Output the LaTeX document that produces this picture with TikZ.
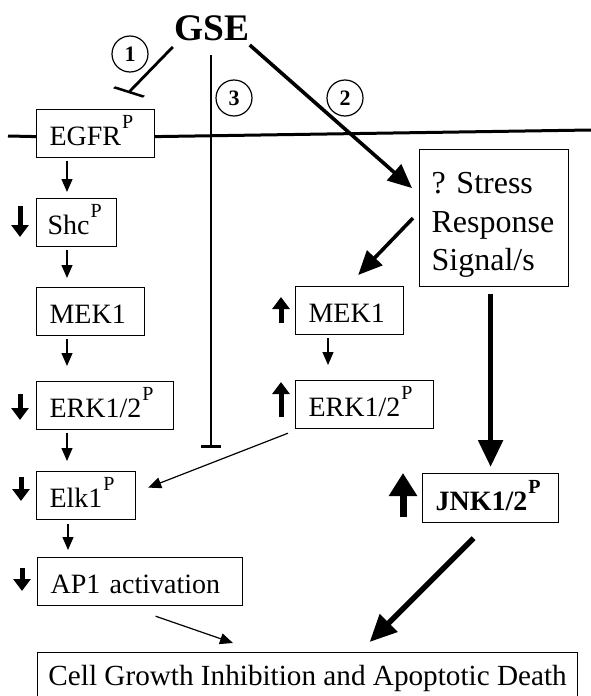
\documentclass[tikz,border=0pt]{standalone}
\usepackage{fontspec}
\setmainfont{Liberation Serif}
\usetikzlibrary{arrows.meta}
\frenchspacing
% raised phospho mark
\newcommand\phos{\hspace{1pt}\raisebox{17pt}{\fontsize{20}{20}\selectfont P}}
\begin{document}
\begin{tikzpicture}[x=1pt,y=-1pt,
  box/.style={draw, line width=1.2pt, anchor=north west, inner xsep=13pt, inner ysep=12pt,
    text height=24pt, text depth=0pt, align=left, font=\fontsize{28}{32}\selectfont},
  num/.style={draw, circle, line width=1.2pt, minimum size=36pt, inner sep=0pt,
    font=\bfseries\fontsize{22}{22}\selectfont},
  thinarr/.style={line width=1.2pt, -{Triangle[length=13pt,width=11pt]}},
  thickarr/.style={line width=3.6pt, -{Triangle[length=24pt,width=21pt]}},
  heavyarr/.style={line width=5.5pt, -{Triangle[length=27pt,width=24pt]}},
  inhib/.style={line width=2.8pt},
  level/.style={line width=5pt, -{Triangle[length=12pt,width=17pt]}},
  biglevel/.style={line width=7pt, -{Triangle[length=23pt,width=27pt]}},
  membrane/.style={line width=3pt}
]
\clip (0,0) rectangle (591,696);

% agent
\node[inner sep=0pt, anchor=base, font=\bfseries\fontsize{37.5}{40}\selectfont] (gse) at (212,40) {GSE};

% left cascade
\node[box, text width=92pt]  (egfr) at (36,109) {EGFR\phos};
\node[box, text width=58pt, inner xsep=11pt] (shc) at (36,198) {Shc\phos};
\node[box, text width=82pt]  (mekL) at (36,287) {MEK1};
\node[box, text width=111pt] (erkL) at (36,381) {ERK1/2\phos};
\node[box, text width=73pt]  (elk)  at (36,471) {Elk1\phos};
\node[box, text width=179pt] (ap1)  at (37,557) {AP1 activation};

% right cascade
\node[box, text width=125pt, inner xsep=12pt, inner ysep=22pt, text height=22pt, text depth=71pt,
      font=\fontsize{32}{38.5}\selectfont] (stress) at (419,149) {? Stress\\Response\\Signal/s};
\node[box, text width=82pt]  (mekR) at (295,286) {MEK1};
\node[box, text width=112pt] (erkR) at (295,380) {ERK1/2\phos};
\node[box, text width=110pt, text height=25pt, font=\bfseries\fontsize{28}{32}\selectfont] (jnk) at (422,473) {JNK1/2\phos};

% outcome
\node[draw, line width=1.2pt, anchor=north west, minimum width=540pt, inner xsep=0pt, inner ysep=12pt,
      text height=21pt, text depth=15pt, font=\fontsize{29.2}{32}\selectfont] (cell) at (37,652)
      {Cell Growth Inhibition and Apoptotic Death};

% route numbers
\node[num] (n1) at (130,54) {1};
\node[num] (n3) at (234,98) {3};
\node[num] (n2) at (345,98) {2};

% cell membrane
\coordinate (memL) at (8,136);
\coordinate (memR) at (591,130);
\draw[membrane] (memL) -- ([yshift=-3pt]egfr.west);
\draw[membrane] ([yshift=-3pt]egfr.east) -- (memR);

% route 1 and route 3: inhibition
\draw[inhib, -{Bar[width=28pt, slant=-0.5]}] ([xshift=-1.5pt,yshift=-7pt]gse.base west) -- ([xshift=32.5pt,yshift=16pt]egfr.north);
\coordinate (bar3) at (211,448);
\draw[inhib, -{Bar[width=20pt]}] ([xshift=-1pt,yshift=-15pt]gse.base) -- (bar3);

% route 2: stress signalling
\draw[thickarr] ([yshift=-5pt]gse.base east) -- ([xshift=-7pt,yshift=30pt]stress.west);
\draw[thickarr] ([xshift=-6pt]stress.west) -- ([xshift=-46pt,yshift=11pt]mekR.north east);
\draw[heavyarr] (jnk.north |- stress.south) ++(0,7) -- ([yshift=6pt]jnk.north);
\draw[heavyarr] ([xshift=-17pt,yshift=-15pt]jnk.south) -- ([xshift=62pt,yshift=10pt]cell.north);

% thin cascade arrows
\coordinate (colL) at (67,0);
\coordinate (colR) at (328,0);
\draw[thinarr, shorten <=3pt, shorten >=6pt]  (colL |- egfr.south) -- (colL |- shc.north);
\draw[thinarr, shorten <=3pt, shorten >=9pt]  (colL |- shc.south)  -- (colL |- mekL.north);
\draw[thinarr, shorten <=3pt, shorten >=15pt] (colL |- mekL.south) -- (colL |- erkL.north);
\draw[thinarr, shorten <=3pt, shorten >=10pt] (colL |- erkL.south) -- (colL |- elk.north);
\draw[thinarr, shorten <=4pt, shorten >=7pt]  ([xshift=1pt]colL |- elk.south) -- ([xshift=1pt]colL |- ap1.north);
\draw[thinarr, shorten <=3pt, shorten >=15pt] (colR |- mekR.south) -- (colR |- erkR.north);
\draw[thinarr] ([xshift=-7pt,yshift=-4pt]erkR.south west) -- ([xshift=12pt,yshift=8pt]elk.east);
\draw[thinarr] ([xshift=15.5pt,yshift=-10pt]ap1.south) -- ([xshift=196pt,yshift=9pt]cell.north west);

% up / down level marks
\draw[level] (20,206) -- (20,237);
\draw[level] (20,394) -- (20,420);
\draw[level] (21,477) -- (21,501);
\draw[level] (22,568) -- (22,591);
\draw[level] (281,323) -- (281,297);
\draw[level] (281,417) -- (281,382);
\draw[biglevel] (403,517) -- (403,473);
\end{tikzpicture}
\end{document}
